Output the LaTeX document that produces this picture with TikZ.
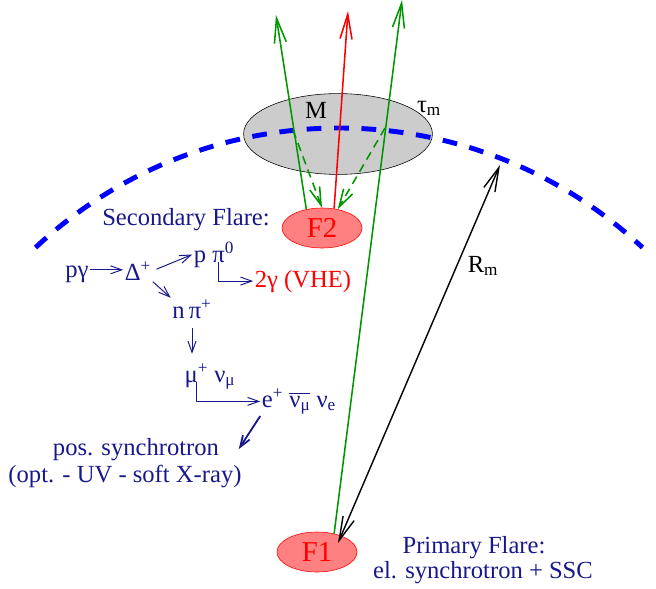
\documentclass[tikz,border=0pt]{standalone}
\usepackage{fontspec}
\setmainfont{Liberation Serif}
\usetikzlibrary{arrows.meta,shapes.geometric}
\definecolor{flareblue}{RGB}{24,24,140}
\definecolor{raygreen}{RGB}{0,150,0}

\begin{document}
\begin{tikzpicture}[x=0.025cm, y=0.025cm, >={Straight Barb[length=0.28cm,width=0.2cm]},
    every node/.style={font=\fontsize{17.5}{20}\selectfont, inner sep=1pt},
    flare/.style={draw=red, fill=red!50, text=red, ellipse, minimum width=2cm, minimum height=1cm, font=\fontsize{20.5}{22}\selectfont},
    cloud/.style={draw, fill=gray!40, ellipse, minimum width=4.72cm, minimum height=2.02cm},
    txt/.style={text=flareblue, anchor=base},
    mirror/.style={blue, line width=3.5pt, dash pattern=on 10.5pt off 9pt},
    ray/.style={raygreen, line width=1.1pt, -{Straight Barb[length=0.62cm,width=0.3cm]}},
    echo/.style={raygreen, line width=1.1pt, dash pattern=on 6pt off 4pt, -{Straight Barb[length=0.45cm,width=0.26cm]}},
    decay/.style={flareblue, line width=0.7pt, ->}]
    \useasboundingbox (0,0) rectangle (656,588);
    % Mirror cloud
    \node[cloud] (M) at (338,454) {};
    \node[anchor=base] (Mlab) at (316,470) {M};
    \node[anchor=base] (tau) at (429,476) {τ\textsubscript{m}};
    % Ring of clouds round the primary flare
    \coordinate (ctr) at (339,15);
    \draw[mirror] (ctr) ++(133:445) arc (133:47:445);
    % Flares
    \node[flare] (F2) at (322,360) {F2};
    \node[flare] (F1) at (317,36) {F1};
    % Rays
    \coordinate (upL) at (276,573);
    \coordinate (upR) at (348,577);
    \coordinate (upF) at (402,588);
    \coordinate (hitL) at (293,458);
    \coordinate (hitR) at (385,460);
    \coordinate (rim) at (500,423);
    \coordinate (core) at (338,45);
    \draw[ray] (F2.130) -- (upL);
    \draw[ray, red] (F2.58) -- (upR);
    \draw[ray] (F1.47) -- (upF);
    \draw[echo] (hitL) -- (F2.north);
    \draw[echo] (hitR) -- (F2.50);
    \draw[black, line width=1pt, {Straight Barb[length=0.6cm,width=0.3cm]}-{Straight Barb[length=0.6cm,width=0.3cm]}] (core) -- (rim);
    \node[anchor=base] (Rm) at (483,316) {R\textsubscript{m}};
    % Secondary flare
    \node[txt] (sec) at (186,363) {Secondary Flare:};
    \node[txt] (pg) at (77,311) {pγ};
    \node[txt] (Delta) at (138,308) {Δ\textsuperscript{+}};
    \node[txt] (ppi) at (214,326) {p π\textsuperscript{0}};
    \node[txt, text=red] (vhe) at (303,301) {2γ (VHE)};
    \node[txt] (npi) at (192,270) {n\,π\textsuperscript{+}};
    \node[txt] (munu) at (210,206) {μ\textsuperscript{+} ν\textsubscript{μ}};
    \node[txt] (enu) at (299,181) {e\textsuperscript{+} $\overline{\mbox{ν\textsubscript{μ}}}$ ν\textsubscript{e}};
    \node[txt] (pos) at (136,133) {pos. synchrotron};
    \node[txt] (opt) at (125,106) {(opt. - UV - soft X-ray)};
    % Primary flare
    \node[txt] (prim) at (474,35) {Primary Flare:};
    \node[txt] (el) at (483,10) {el. synchrotron + SSC};
    % Decay chain
    \draw[decay] ([yshift=0.1cm]pg.east) -- ([yshift=0.1cm]pg.east -| Delta.west);
    \draw[decay, shorten <=0.1cm] (Delta.east) -- (ppi.west);
    \draw[decay] ([xshift=0.12cm]ppi.base) |- (vhe.west);
    \draw[decay] (Delta.south east) -- (npi.north west);
    \draw[decay, shorten <=0.2cm, shorten >=0.2cm] (npi.south) -- (npi.south |- munu.north);
    \draw[decay] ([xshift=-0.35cm]munu.base) |- (enu.west);
    \draw[decay, line width=1.3pt] (enu.south west) -- ([xshift=0.45cm]pos.east);
\end{tikzpicture}
\end{document}
